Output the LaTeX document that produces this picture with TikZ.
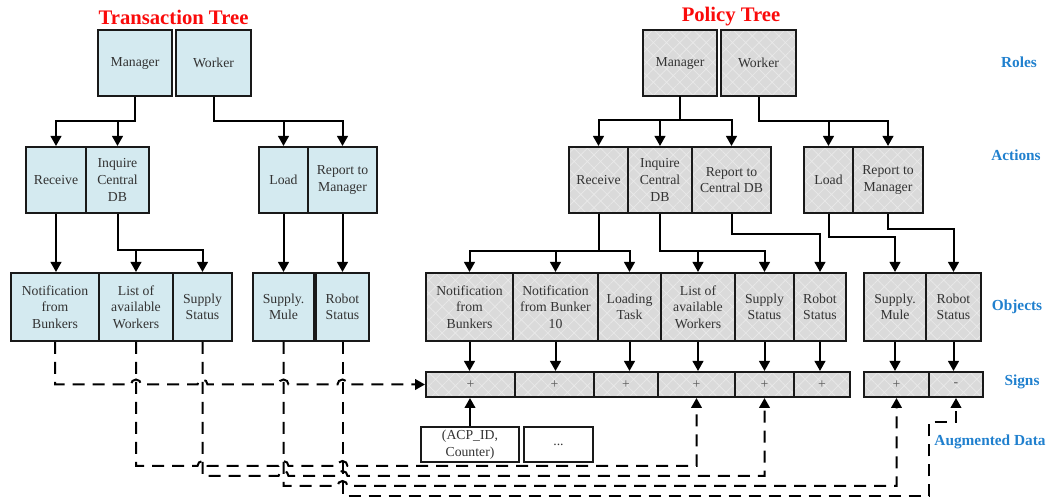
\documentclass[tikz,border=0pt]{standalone}
\usepackage{fontspec}
\setmainfont{Liberation Serif}
\usetikzlibrary{arrows.meta,patterns.meta}

\definecolor{tblue}{RGB}{212,234,240}
\definecolor{pgray}{RGB}{218,218,218}
\definecolor{lblue}{RGB}{32,128,206}
\definecolor{ttl}{RGB}{250,10,10}

\tikzset{
  % a box given by its corners x1/y1/x2/y2 (in picture units)
  span/.style args={#1/#2/#3/#4}{
    at={({(#1+#3)/2},{(#2+#4)/2})},
    minimum width={(#3-#1)*0.75pt}, minimum height={(#4-#2)*0.75pt}},
  box/.style={draw=black!90, line width=1.5pt, inner sep=0pt, align=center,
              font=\fontsize{10.3}{12.4}\selectfont, text=black!80},
  tbox/.style={box, fill=tblue},
  pbox/.style={box, preaction={fill=pgray},
               pattern={Hatch[angle=45,distance=7pt,line width=0.5pt]},
               pattern color=white!40!pgray},
  abox/.style={box, fill=white},
  signbox/.style={pbox, text=black!65},
  flow/.style={line width=1.5pt, -{Triangle[width=8pt,length=7.5pt]}},
  link/.style={line width=1.5pt, dash pattern=on 9pt off 6pt,
               -{Triangle[width=8pt,length=7.5pt]}},
  title/.style={font=\fontsize{15.5}{18}\selectfont\bfseries, text=ttl},
  level/.style={font=\fontsize{11.5}{13}\selectfont\bfseries, text=lblue},
}

\begin{document}
\begin{tikzpicture}[x=0.75pt, y=-0.75pt]
\useasboundingbox (0,0) rectangle (1050,498);

% ---------- titles and level labels ----------
\node[title] (ttree) at (173.5,17) {Transaction Tree};
\node[title] (ptree) at (731,17) {Policy Tree};
\node[level] (lroles)   at (1019,62)  {Roles};
\node[level] (lactions) at (1016,155) {Actions};
\node[level] (lobjects) at (1017,307) {Objects};
\node[level] (lsigns)   at (1022,382) {Signs};
\node[level] (laug)     at (990,442)  {Augmented Data};

% ---------- transaction tree ----------
\node[tbox, span=98/30/172/96]    (tm)  {Manager};
\node[tbox, span=176/30/251/96]   (tw)  {Worker};
\node[tbox, span=26/147/86/213]   (tr)  {Receive};
\node[tbox, span=86/147/149/213]  (ti)  {Inquire\\Central\\DB};
\node[tbox, span=259/147/308/213] (tld) {Load};
\node[tbox, span=308/147/377/213] (trm) {Report to\\Manager};
\node[tbox, span=11/273/99/341]   (tn)  {Notification\\from\\Bunkers};
\node[tbox, span=99/273/173/341]  (tl)  {List of\\available\\Workers};
\node[tbox, span=173/273/232/341] (tss) {Supply\\Status};
\node[tbox, span=253/273/314/341] (tsm) {Supply.\\Mule};
\node[tbox, span=316/273/369/341] (tro) {Robot\\Status};

\draw[flow] (tm.south) -- ++(0,24) -| (tr.north);
\draw[flow] (tm.south) -- ++(0,24) -| (ti.north);
\draw[flow] (tw.south) -- ++(0,24) -| (tld.north);
\draw[flow] (tw.south) -- ++(0,24) -| (trm.north);
\draw[flow] (tr.south) -- (tr.south |- tn.north);
\draw[flow] (ti.south) -- ++(0,36) -| (tl.north);
\draw[flow] (ti.south) -- ++(0,36) -| (tss.north);
\draw[flow] (tld.south) -- (tld.south |- tsm.north);
\draw[flow] (trm.south) -- (trm.south |- tro.north);

% ---------- policy tree ----------
\node[pbox, span=643/30/717/96]   (pm)  {Manager};
\node[pbox, span=721/30/796/96]   (pw)  {Worker};
\node[pbox, span=569/147/628/213] (pr)  {Receive};
\node[pbox, span=628/147/692/213] (pi)  {Inquire\\Central\\DB};
\node[pbox, span=692/147/771/213] (prc) {Report to\\Central DB};
\node[pbox, span=804/147/853/213] (pld) {Load};
\node[pbox, span=853/147/923/213] (prm) {Report to\\Manager};

\node[pbox, span=426/273/513/341] (pn1)  {Notification\\from\\Bunkers};
\node[pbox, span=513/273/598/341] (pn10) {Notification\\from Bunker\\10};
\node[pbox, span=598/273/661/341] (plt)  {Loading\\Task};
\node[pbox, span=661/273/735/341] (pl)   {List of\\available\\Workers};
\node[pbox, span=735/273/794/341] (pss)  {Supply\\Status};
\node[pbox, span=794/273/846/341] (pro)  {Robot\\Status};
\node[pbox, span=864/273/926/341] (psm)  {Supply.\\Mule};
\node[pbox, span=926/273/981/341] (pro2) {Robot\\Status};

\draw[flow] (pm.south) -- ++(0,24) -| (pr.north);
\draw[flow] (pm.south) -- ++(0,24) -| (pi.north);
\draw[flow] (pm.south) -- ++(0,24) -| (prc.north);
\draw[flow] (pw.south) -- ++(0,24) -| (pld.north);
\draw[flow] (pw.south) -- ++(0,24) -| (prm.north);
\draw[flow] (pr.south) -- ++(0,37) -| (pn1.north);
\draw[flow] (pr.south) -- ++(0,37) -| (pn10.north);
\draw[flow] (pr.south) -- ++(0,37) -| (plt.north);
\draw[flow] (pi.south) -- ++(0,37) -| (pl.north);
\draw[flow] (pi.south) -- ++(0,37) -| (pss.north);
\draw[flow] (prc.south) -- ++(0,20) -| (pro.north);
\draw[flow] (pld.south) -- ++(0,23) -| (psm.north);
\draw[flow] (prm.south) -- ++(0,15) -| (pro2.north);

% ---------- signs ----------
\node[signbox, span=426/372/515/397] (s1) {+};
\node[signbox, span=515/372/594/397] (s2) {+};
\node[signbox, span=594/372/658/397] (s3) {+};
\node[signbox, span=658/372/735/397] (s4) {+};
\node[signbox, span=735/372/794/397] (s5) {+};
\node[signbox, span=794/372/850/397] (s6) {+};
\node[signbox, span=864/372/929/397] (s7) {+};
\node[signbox, span=929/372/983/397] (s8) {-};

\draw[flow] (pn1.south)  -- (pn1.south |- s1.north);
\draw[flow] (pn10.south) -- (pn10.south |- s2.north);
\draw[flow] (plt.south)  -- (plt.south |- s3.north);
\draw[flow] (pl.south)   -- (pl.south |- s4.north);
\draw[flow] (pss.south)  -- (pss.south |- s5.north);
\draw[flow] (pro.south)  -- (pro.south |- s6.north);
\draw[flow] (psm.south)  -- (psm.south |- s7.north);
\draw[flow] (pro2.south) -- (pro2.south |- s8.north);

% ---------- augmented data ----------
\node[abox, span=421/427/519/462] (acp)  {(ACP\_ID,\\Counter)};
\node[abox, span=524/427/593/462] (more) {...};
\draw[flow] (acp.north) -- (acp.north |- s1.south);

% ---------- dashed links from the transaction objects to the signs ----------
\draw[link] (tn.south) -- (55,384.5)
  -- (131,384.5) arc[start angle=180,end angle=0,radius=3.75pt]
  -- (197.5,384.5) arc[start angle=180,end angle=0,radius=3.75pt]
  -- (278.5,384.5) arc[start angle=180,end angle=0,radius=3.75pt]
  -- (337.5,384.5) arc[start angle=180,end angle=0,radius=3.75pt]
  -- (s1.west);
\draw[link] (tl.south) -- (136,466)
  -- (197.5,466) arc[start angle=180,end angle=0,radius=3.75pt]
  -- (278.5,466) arc[start angle=180,end angle=0,radius=3.75pt]
  -- (337.5,466) arc[start angle=180,end angle=0,radius=3.75pt]
  -- (s4.south |- 0,466) -- (s4.south);
\draw[link] (tss.south) -- (202.5,476)
  -- (278.5,476) arc[start angle=180,end angle=0,radius=3.75pt]
  -- (337.5,476) arc[start angle=180,end angle=0,radius=3.75pt]
  -- (s5.south |- 0,476) -- (s5.south);
\draw[link] (tsm.south) -- (283.5,486)
  -- (337.5,486) arc[start angle=180,end angle=0,radius=3.75pt]
  -- (s7.south |- 0,486) -- (s7.south);
\draw[link] (tro.south) -- (342.5,496) -- (929,496) -- (929,422)
  -- (s8.south |- 0,422) -- (s8.south);

\end{tikzpicture}
\end{document}
